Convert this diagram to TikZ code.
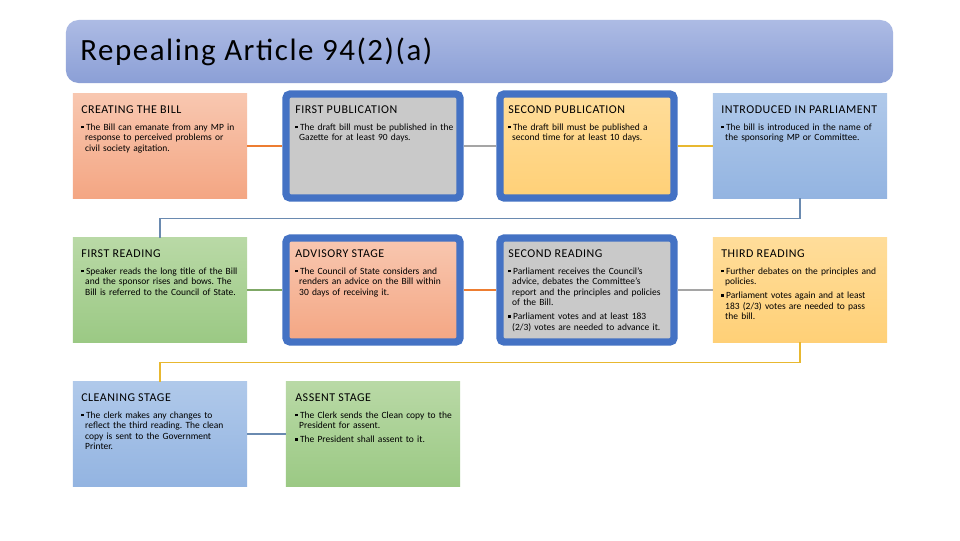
\documentclass[tikz,border=0pt]{standalone}
\usepackage{fontspec}
\setmainfont{Carlito}
\frenchspacing

\definecolor{salmontop}{HTML}{F8C7B0}
\definecolor{salmonbot}{HTML}{F4A683}
\definecolor{goldtop}{HTML}{FFDD9A}
\definecolor{goldbot}{HTML}{FFD077}
\definecolor{bluetop}{HTML}{B0C9EA}
\definecolor{bluebot}{HTML}{93B4E1}
\definecolor{greentop}{HTML}{B9D9A6}
\definecolor{greenbot}{HTML}{9BC984}
\definecolor{greyfill}{HTML}{C9C9C9}
\definecolor{titletop}{HTML}{ADBBE4}
\definecolor{titlebot}{HTML}{8B9FD6}
\definecolor{framebl}{HTML}{4472C4}
\definecolor{lnorange}{HTML}{ED7D31}
\definecolor{lngrey}{HTML}{A5A5A5}
\definecolor{lngold}{HTML}{E8B830}
\definecolor{lnblue}{HTML}{6A8AB0}
\definecolor{lngreen}{HTML}{7FA866}

\newcommand{\hd}{\fontsize{8.5}{10}\selectfont\addfontfeature{LetterSpace=4.5}}
\newcommand{\blt}{\makebox[3.4pt][l]{\rule[1.2pt]{2pt}{2pt}}}
\newcommand{\hng}{\hspace*{2.8pt}}

\begin{document}
\begin{tikzpicture}[x=0.025cm, y=-0.025cm,
  stagebox/.style={minimum width=4.35cm, minimum height=2.6cm, inner sep=0pt},
  framed/.style={draw=framebl, line width=5.2pt, rounded corners=3pt},
  salmon/.style={top color=salmontop, bottom color=salmonbot},
  gold/.style={top color=goldtop, bottom color=goldbot},
  paleblue/.style={top color=bluetop, bottom color=bluebot},
  palegreen/.style={top color=greentop, bottom color=greenbot},
  txt/.style={anchor=north west, text width=4.1cm, align=left, inner sep=0pt,
    font=\fontsize{6.75}{7.5}\selectfont},
  conn/.style={line width=0.9pt}]

  % fundo
  \useasboundingbox[fill=white] (0,0) rectangle (960,540);

  % titulo
  \node[rounded corners=9pt, top color=titletop, bottom color=titlebot,
    minimum width=20.675cm, minimum height=1.575cm, inner sep=0pt] (banner) at (479.5,51.5) {};
  \node[anchor=west, inner sep=0pt, font=\fontsize{22}{26}\selectfont\addfontfeature{LetterSpace=5}] (title) at (80,52) {Repealing Article 94(2)(a)};

  % linha 1
  \node[stagebox, salmon] (create) at (160,146) {};
  \node[stagebox, framed, fill=greyfill] (firstpub) at (373,146) {};
  \node[stagebox, framed, gold] (secondpub) at (587,146) {};
  \node[stagebox, paleblue] (intro) at (800,146) {};

  % linha 2
  \node[stagebox, palegreen] (firstread) at (160,290) {};
  \node[stagebox, framed, salmon] (advisory) at (373,290) {};
  \node[stagebox, framed, fill=greyfill] (secondread) at (587,290) {};
  \node[stagebox, gold] (thirdread) at (800,290) {};

  % linha 3
  \node[stagebox, paleblue] (cleaning) at (160,434) {};
  \node[stagebox, palegreen] (assent) at (373,434) {};

  % textos
  \node[txt] (create-t) at (81,105) {{\hd CREATING THE BILL}\\[4.6pt]
    \blt The Bill can emanate from any MP in\\ \hng response to perceived problems or\\ \hng civil society agitation.};
  \node[txt] (firstpub-t) at (295,105) {{\hd FIRST PUBLICATION}\\[4.6pt]
    \blt The draft bill must be published in the\\ \hng Gazette for at least 90 days.};
  \node[txt] (secondpub-t) at (508,105) {{\hd SECOND PUBLICATION}\\[4.6pt]
    \blt The draft bill must be published a\\ \hng second time for at least 10 days.};
  \node[txt] (intro-t) at (721,105) {{\hd INTRODUCED IN PARLIAMENT}\\[4.6pt]
    \blt The bill is introduced in the name of\\ \hng the sponsoring MP or Committee.};

  \node[txt] (firstread-t) at (81,249) {{\hd FIRST READING}\\[4.6pt]
    \blt Speaker reads the long title of the Bill\\ \hng and the sponsor rises and bows. The\\ \hng Bill is referred to the Council of State.};
  \node[txt] (advisory-t) at (295,249) {{\hd ADVISORY STAGE}\\[4.6pt]
    \blt The Council of State considers and\\ \hng renders an advice on the Bill within\\ \hng 30 days of receiving it.};
  \node[txt] (secondread-t) at (508,249) {{\hd SECOND READING}\\[4.6pt]
    \blt Parliament receives the Council's\\ \hng advice, debates the Committee’s\\ \hng report and the principles and policies\\ \hng of the Bill.\\[2.4pt]
    \blt Parliament votes and at least 183\\ \hng (2/3) votes are needed to advance it.};
  \node[txt] (thirdread-t) at (721,249) {{\hd THIRD READING}\\[4.6pt]
    \blt Further debates on the principles and\\ \hng policies.\\[2.4pt]
    \blt Parliament votes again and at least\\ \hng 183 (2/3) votes are needed to pass\\ \hng the bill.};

  \node[txt] (cleaning-t) at (81,393) {{\hd CLEANING STAGE}\\[4.6pt]
    \blt The clerk makes any changes to\\ \hng reflect the third reading. The clean\\ \hng copy is sent to the Government\\ \hng Printer.};
  \node[txt] (assent-t) at (295,393) {{\hd ASSENT STAGE}\\[4.6pt]
    \blt The Clerk sends the Clean copy to the\\ \hng President for assent.\\[2.4pt]
    \blt The President shall assent to it.};

  % ligacoes
  \draw[conn, lnorange] (create) -- (firstpub);
  \draw[conn, lngrey] (firstpub) -- (secondpub);
  \draw[conn, lngold] (secondpub) -- (intro);
  \draw[conn, lnblue] (intro.south) -- ++(0,20) -| (firstread.north);
  \draw[conn, lngreen] (firstread) -- (advisory);
  \draw[conn, lnorange] (advisory) -- (secondread);
  \draw[conn, lngrey] (secondread) -- (thirdread);
  \draw[conn, lngold] (thirdread.south) -- ++(0,20) -| (cleaning.north);
  \draw[conn, lnblue] (cleaning) -- (assent);

\end{tikzpicture}
\end{document}
